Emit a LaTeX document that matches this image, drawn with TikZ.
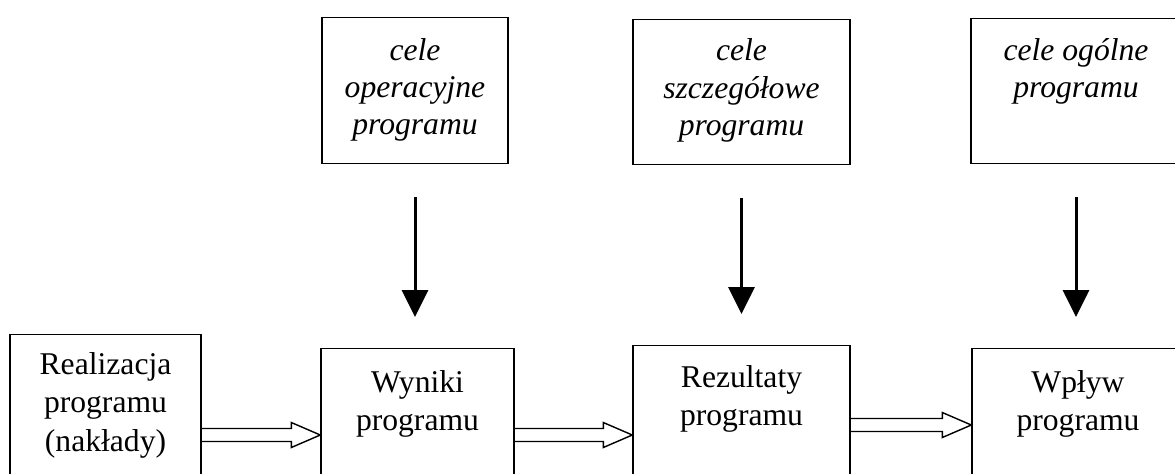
\documentclass[tikz,border=0pt]{standalone}
\usepackage{fontspec}
\setmainfont{Liberation Serif}
\usepackage{tikz}
\usetikzlibrary{positioning, arrows.meta, calc}

\tikzset{
  pole/.style={draw, line width=0.8pt, inner sep=0pt, anchor=north},
  napis/.style={align=center, inner sep=0pt, font=\fontsize{18}{22}\selectfont},
  celnapis/.style={align=center, inner sep=0pt, anchor=north, font=\fontsize{18}{21.2}\selectfont\itshape},
  wplywa/.style={line width=1.7pt, -{Triangle[width=0.52cm,length=0.54cm]}},
  szeroka/.style={line width=0.8pt, line join=miter},
}

% podwojna strzalka: od, do, wysokosc
\newcommand{\strzalka}[3]{%
  \coordinate (s) at (#1.east |- 0,#3);
  \coordinate (k) at (#2.west |- 0,#3);
  \draw[szeroka] ($(s)+(0,0.13)$) -- ($(k)+(-0.58,0.13)$) -- ($(k)+(-0.58,0.25)$) -- (k)
    -- ($(k)+(-0.58,-0.25)$) -- ($(k)+(-0.58,-0.13)$) -- ($(s)+(0,-0.13)$);
}

\begin{document}
\begin{tikzpicture}
    \useasboundingbox (0,0) rectangle (23.5,-9.46);
    \clip (0,0) rectangle (23.5,-9.46);
    % Cele programu (gorny rzad)
    \node[pole, minimum width=3.72cm, minimum height=2.92cm] (cel1) at (8.30,-0.34) {};
    \node[pole, minimum width=4.34cm, minimum height=2.90cm] (cel2) at (14.83,-0.37) {};
    \node[pole, minimum width=6cm, minimum height=2.90cm] (cel3) at (22.42,-0.36) {};
    \node[celnapis] (tcel1) at ($(cel1.north)+(0,-0.42)$) {cele\\operacyjne\\programu};
    \node[celnapis] (tcel2) at ($(cel2.north)+(0,-0.40)$) {cele\\szczegółowe\\programu};
    \node[celnapis] (tcel3) at ($(cel3.north)+(-0.90,-0.40)$) {cele ogólne\\programu};
    % Etapy programu (dolny rzad)
    \node[pole, minimum width=3.82cm, minimum height=3cm] (realizacja) at (2.11,-6.68) {};
    \node[pole, minimum width=3.86cm, minimum height=3cm] (wyniki) at (8.35,-6.96) {};
    \node[pole, minimum width=4.34cm, minimum height=3cm] (rezultaty) at (14.83,-6.90) {};
    \node[pole, minimum width=6cm, minimum height=3cm] (wplyw) at (22.44,-6.96) {};
    \node[napis, below=0.36cm of realizacja.north] (trealizacja) {Realizacja\\programu\\(nakłady)};
    \node[napis, below=0.44cm of wyniki.north] (twyniki) {Wyniki\\programu};
    \node[napis, below=0.40cm of rezultaty.north] (trezultaty) {Rezultaty\\programu};
    \node[napis, anchor=north] (twplyw) at ($(wplyw.north)+(-0.88,-0.44)$) {Wpływ\\programu};
    % Strzalki pionowe
    \foreach \c/\t/\e in {cel1/tcel1/wyniki, cel2/tcel2/rezultaty, cel3/tcel3/wplyw} {
        \draw[wplywa, shorten <=0.66cm, shorten >=0.62cm] (\t |- \c.south) -- (\t |- \e.north);
    }
    % Strzalki poziome
    \strzalka{realizacja}{wyniki}{-8.70}
    \strzalka{wyniki}{rezultaty}{-8.70}
    \strzalka{rezultaty}{wplyw}{-8.50}
\end{tikzpicture}
\end{document}
